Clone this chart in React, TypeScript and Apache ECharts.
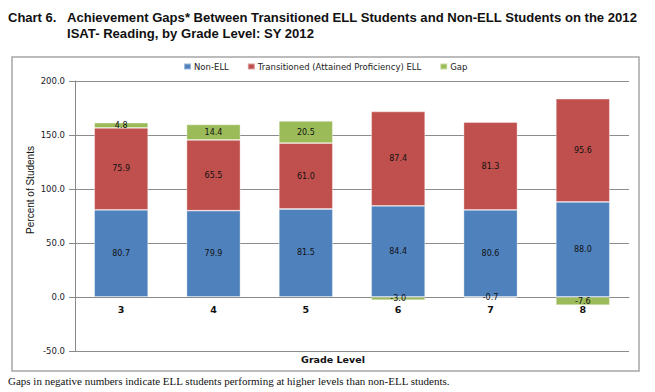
import React, { useEffect, useRef } from "react";
import * as echarts from "echarts";

const grades = ["3", "4", "5", "6", "7", "8"];
const nonEll = [80.7, 79.9, 81.5, 84.4, 80.6, 88.0];
const transitioned = [75.9, 65.5, 61.0, 87.4, 81.3, 95.6];
const gap = [4.8, 14.4, 20.5, -3.0, -0.7, -7.6];
const seriesNames = ["Non-ELL", "Transitioned (Attained Proficiency) ELL", "Gap"];
const colors = ["#4F81BD", "#C0504D", "#9BBB59"];

export default function App() {
  const ref = useRef<HTMLDivElement>(null);
  useEffect(() => {
    if (!ref.current) return;
    const chart = echarts.init(ref.current, null, { renderer: "svg" });
    const label = {
      show: true,
      position: "inside",
      fontSize: 8,
      fontFamily: "DejaVu Sans",
      color: "#111",
      formatter: (p: any) => Number(p.value).toFixed(1),
    };
    const datasets = [nonEll, transitioned, gap];
    chart.setOption({
      animation: false,
      backgroundColor: "#fff",
      color: colors,
      graphic: [
        {
          type: "rect",
          shape: { x: 12, y: 57, width: 627, height: 314 },
          style: { fill: "none", stroke: "#a6a6a6", lineWidth: 1.5 },
          silent: true,
        },
        {
          type: "text",
          x: 8,
          y: 11,
          style: { text: "Chart 6.", font: "bold 13px 'Liberation Sans', Arial", fill: "#111" },
        },
        {
          type: "text",
          x: 67,
          y: 11,
          style: {
            text: "Achievement Gaps* Between Transitioned ELL Students and Non-ELL Students on the 2012",
            font: "bold 13.1px 'Liberation Sans', Arial",
            fill: "#111",
          },
        },
        {
          type: "text",
          x: 67,
          y: 27,
          style: {
            text: "ISAT- Reading, by Grade Level: SY 2012",
            font: "bold 13.1px 'Liberation Sans', Arial",
            fill: "#111",
          },
        },
        {
          type: "text",
          x: 30,
          y: 190,
          rotation: Math.PI / 2,
          style: {
            text: "Percent of Students",
            font: "10px 'Liberation Sans Narrow', 'Liberation Sans', Arial",
            fill: "#111",
            align: "center",
            verticalAlign: "middle",
          },
        },
        {
          type: "text",
          x: 333,
          y: 359,
          style: {
            text: "Grade Level",
            font: "bold 9.5px 'DejaVu Sans'",
            fill: "#111",
            align: "center",
            verticalAlign: "middle",
          },
        },
        {
          type: "text",
          x: 8,
          y: 375,
          style: {
            text: "Gaps in negative numbers indicate ELL students performing at higher levels than non-ELL students.",
            font: "11px 'Liberation Serif', 'Times New Roman', serif",
            fill: "#111",
          },
        },
      ],
      legend: {
        top: 57,
        left: 178,
        itemWidth: 7,
        itemHeight: 6,
        itemGap: 18,
        icon: "rect",
        textStyle: { fontSize: 8.5, fontFamily: "DejaVu Sans", color: "#222", padding: [0, 0, 0, -2] },
        data: seriesNames,
      },
      grid: { left: 75, right: 26, top: 81, bottom: 41 },
      xAxis: {
        type: "category",
        data: grades,
        axisLine: { onZero: true, lineStyle: { color: "#888", width: 1 } },
        axisTick: { show: false },
        axisLabel: {
          fontSize: 9.5,
          fontWeight: "bold",
          fontFamily: "DejaVu Sans",
          color: "#111",
          margin: -47,
        },
      },
      yAxis: {
        type: "value",
        min: -50,
        max: 200,
        interval: 50,
        axisLine: { show: true, lineStyle: { color: "#888" } },
        axisTick: { show: true, length: 6, lineStyle: { color: "#888" } },
        splitLine: { show: true, lineStyle: { color: "#8c8c8c", width: 1 } },
        axisLabel: {
          fontSize: 8.5,
          fontFamily: "DejaVu Sans",
          color: "#1a1a2a",
          margin: 10,
          formatter: (v: number) => v.toFixed(1),
        },
      },
      series: seriesNames.map((name, i) => ({
        name,
        type: "bar",
        stack: "total",
        barWidth: 54,
        data: datasets[i],
        itemStyle: { color: colors[i], borderColor: "rgba(255,255,255,0.45)", borderWidth: 0.8 },
        label,
      })),
    });
    return () => chart.dispose();
  }, []);
  return (
    <div
      ref={ref}
      style={{ position: "fixed", left: 0, top: 0, width: 655, height: 392 }}
    />
  );
}
